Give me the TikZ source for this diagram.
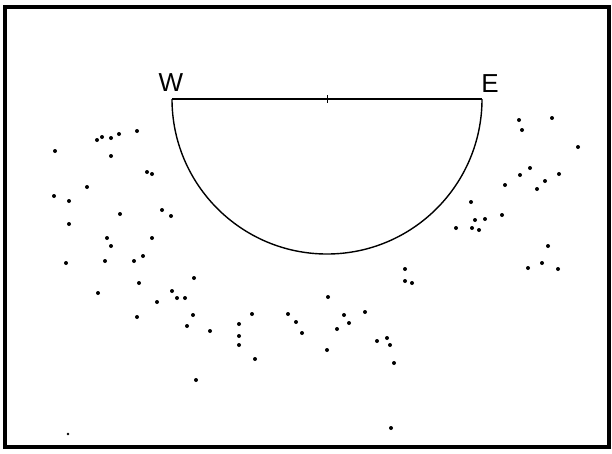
\documentclass[tikz,border=0pt]{standalone}
\usepackage{fontspec}
\setsansfont{Liberation Sans}
\usepackage{tikz}
\usetikzlibrary{arrows.meta,calc,positioning}
\tikzset{
  frame/.style={line width=3.4pt,black},
  rim/.style={line width=2.6pt,black},
  bowl/.style={line width=1.4pt,black},
  star/.style={circle,fill=black,inner sep=0pt,minimum size=4pt},
  faint/.style={circle,fill=black,inner sep=0pt,minimum size=2.6pt},
  compass/.style={font=\sffamily\fontsize{26}{26}\selectfont,inner sep=0pt}
}
\begin{document}
\begin{tikzpicture}[x=1pt,y=-1pt]
  \useasboundingbox (0,0) rectangle (612,453);
  \draw[frame] (5,7) rectangle (609,447);
  \draw[bowl] (172,99) arc[start angle=180,end angle=0,radius=155];
  \draw[rim] (172,99) -- (482,99);
  \draw[thin] (327,95) -- (327,103);
  \node[compass] (west) at (171,83) {W};
  \node[compass] (east) at (490,84) {E};
  \foreach \x/\y in {97/140,102/137,111/138,119/134,137/131,55/151,111/156,147/172,152/174,
    87/187,54/196,69/201,120/214,162/210,171/216,69/224,
    107/238,152/238,111/246,66/263,105/261,134/261,143/256,139/283,98/293,194/278,
    172/291,177/298,185/298,157/302,137/317,193/315,187/326,210/331,252/314,
    239/324,239/336,239/345,255/359,196/380,288/314,296/322,302/333,
    456/228,472/228,479/230,405/269,405/281,412/283,328/297,344/315,349/323,365/312,
    337/329,327/350,377/341,387/338,390/345,394/363,391/428,
    548/246,542/263,528/268,558/269,519/120,552/118,522/130,578/147,
    530/168,520/175,559/174,545/181,537/189,505/185,471/202,475/220,485/219,502/215}
    \node[star] at (\x,\y) {};
  \node[faint] at (68,434) {};
\end{tikzpicture}
\end{document}
